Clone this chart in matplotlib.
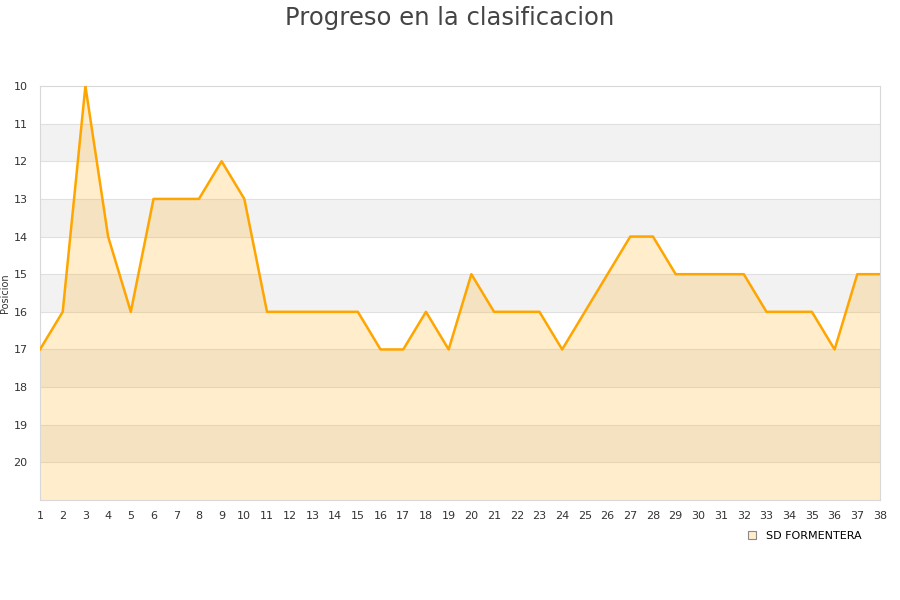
import matplotlib
matplotlib.use("Agg")
from matplotlib import pyplot as plt

jornadas = list(range(1, 39))
posiciones = [17, 16, 10, 14, 16, 13, 13, 13, 12, 13,
              16, 16, 16, 16, 16, 17, 17, 16, 17, 15,
              16, 16, 16, 17, 16, 15, 14, 14, 15, 15,
              15, 15, 16, 16, 16, 17, 15, 15]
equipo = "SD FORMENTERA"
y_ticks = list(range(10, 21))

fig = plt.figure(figsize=(9, 6), dpi=100)
ax = fig.add_axes([40 / 900, 100 / 600, 840 / 900, 414 / 600])

# alternating bands
for lo in range(11, 21, 2):
    ax.axhspan(lo, lo + 1, color="#f2f2f2", zorder=0, lw=0)
for y in range(11, 21):
    ax.axhline(y, color="#e0e0e0", lw=0.8, zorder=1)

ax.fill_between(jornadas, posiciones, 21, color="#ffa500", alpha=0.2, lw=0, zorder=2)
ax.plot(jornadas, posiciones, color="#ffa500", lw=1.8, zorder=3)
ax.plot([], [], ls="none", marker="s", ms=6, mfc="#ffedcc", mec="#888888",
        mew=0.8, label=equipo)

ax.set_xlim(1, 38)
ax.set_ylim(21, 10)
ax.set_xticks(jornadas)
ax.set_yticks(y_ticks)
ax.tick_params(length=0, labelsize=8, colors="#333333", pad=8)
ax.tick_params(axis="y", pad=9)
for s in ax.spines.values():
    s.set_color("#d8d8d8")
ax.set_ylabel("Posicion", fontsize=7, color="#333333")
ax.yaxis.set_label_coords(-0.036, 0.5)

fig.suptitle("Progreso en la clasificacion", fontsize=17.5, color="#444444", y=0.99)
ax.legend(loc="upper right", bbox_to_anchor=(0.99, -0.05), frameon=False,
          fontsize=8, handletextpad=0.3)

fig.savefig("out.png", dpi=100)
